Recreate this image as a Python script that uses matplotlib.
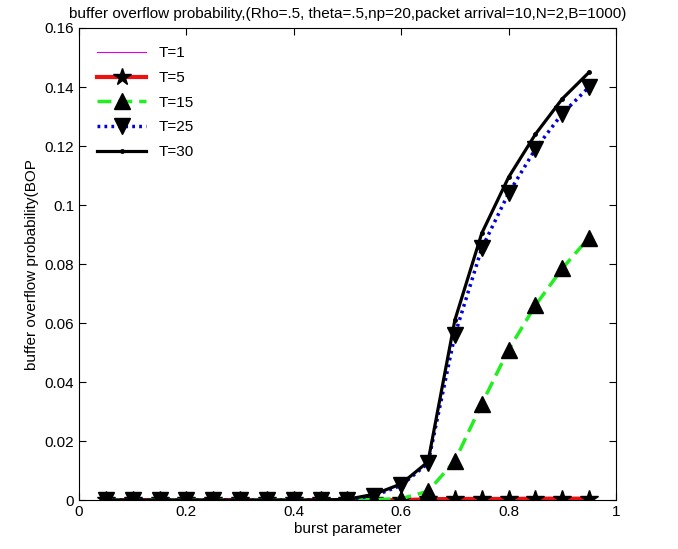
import matplotlib

matplotlib.use("Agg")
import matplotlib.pyplot as plt
from matplotlib.ticker import FixedLocator

plt.rcParams["font.family"] = ["Liberation Sans", "DejaVu Sans"]

burst = [0.05, 0.10, 0.15, 0.20, 0.25, 0.30, 0.35, 0.40, 0.45, 0.50,
         0.55, 0.60, 0.65, 0.70, 0.75, 0.80, 0.85, 0.90, 0.95]

bop_t1 = [0.0] * 19
bop_t5 = [0.0, 0.0, 0.0, 0.0, 0.0, 0.0, 0.0, 0.0, 0.0, 0.0,
          0.0, 0.0, 0.0003, 0.0004, 0.0004, 0.0004, 0.0005, 0.0005, 0.0005]
bop_t15 = [0.0, 0.0, 0.0, 0.0, 0.0, 0.0, 0.0, 0.0, 0.0, 0.0,
           0.0002, 0.0005, 0.003, 0.0133, 0.0326, 0.051, 0.066, 0.0785, 0.089]
bop_t25 = [0.0, 0.0, 0.0, 0.0, 0.0, 0.0, 0.0, 0.0, 0.0, 0.0002,
           0.0015, 0.005, 0.0125, 0.056, 0.0853, 0.104, 0.119, 0.131, 0.140]
bop_t30 = [0.0, 0.0, 0.0, 0.0, 0.0, 0.0, 0.0, 0.0, 0.0, 0.0003,
           0.002, 0.0055, 0.013, 0.061, 0.0904, 0.1094, 0.124, 0.136, 0.145]

x_ticks = [0, 0.2, 0.4, 0.6, 0.8, 1.0]
x_tick_labels = ["0", "0.2", "0.4", "0.6", "0.8", "1"]
y_ticks = [0, 0.02, 0.04, 0.06, 0.08, 0.1, 0.12, 0.14, 0.16]
y_tick_labels = ["0", "0.02", "0.04", "0.06", "0.08", "0.1", "0.12", "0.14", "0.16"]

fig = plt.figure(figsize=(6.78, 5.49), dpi=100)
ax = fig.add_axes([0.1165, 0.089, 0.792, 0.86])

ax.plot(burst, bop_t1, color="#e000e0", linewidth=0.8, label="T=1")
ax.plot(burst, bop_t5, color="#ee1111", linewidth=3.0, marker="*",
        markersize=13, markerfacecolor="black", markeredgecolor="black", label="T=5")
ax.plot(burst, bop_t15, color="#22ee22", linewidth=2.5, linestyle=(0, (4, 2)),
        marker="^", markersize=12, markerfacecolor="black", markeredgecolor="black",
        label="T=15")
ax.plot(burst, bop_t25, color="#0000dd", linewidth=2.5, linestyle=(0, (0.8, 1.2)),
        marker="v", markersize=12, markerfacecolor="black", markeredgecolor="black",
        label="T=25")
ax.plot(burst, bop_t30, color="black", linewidth=2.3, marker=".", markersize=5,
        label="T=30")

ax.set_xlim(0, 1)
ax.set_ylim(0, 0.16)
ax.xaxis.set_major_locator(FixedLocator(x_ticks))
ax.set_xticklabels(x_tick_labels)
ax.yaxis.set_major_locator(FixedLocator(y_ticks))
ax.set_yticklabels(y_tick_labels)
ax.tick_params(direction="in", length=5, labelsize=11, top=True, right=True)

ax.set_xlabel("burst parameter", fontsize=11, labelpad=2)
ax.set_ylabel("buffer overflow probability(BOP", fontsize=11)
ax.set_title("buffer overflow probability,(Rho=.5, theta=.5,np=20,packet arrival=10,N=2,B=1000)",
             fontsize=11, pad=7)

ax.legend(loc="upper left", frameon=False, fontsize=11, handlelength=3.2,
          labelspacing=0.7, borderaxespad=0.8)

fig.savefig("out.png", dpi=100)
